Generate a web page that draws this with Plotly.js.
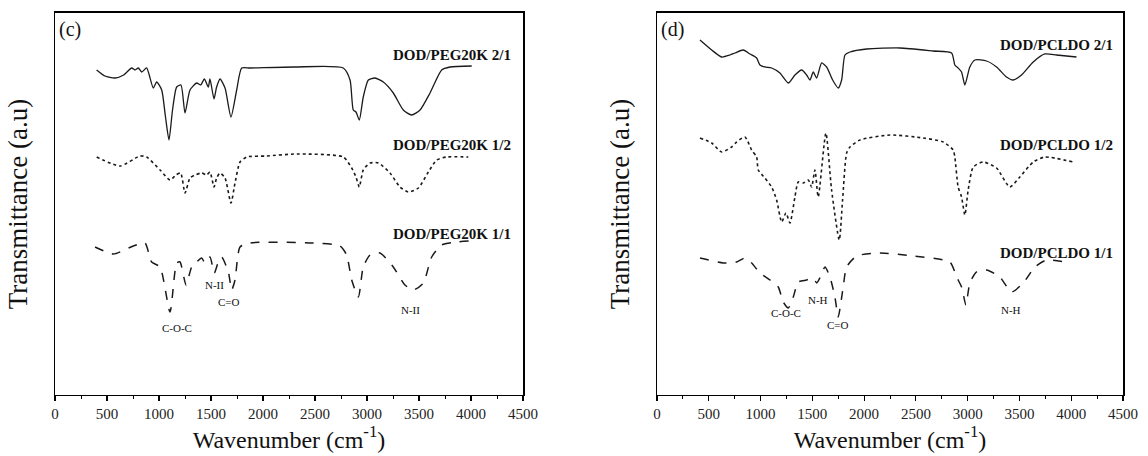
<!DOCTYPE html>
<html>
<head>
<meta charset="utf-8">
<script src="https://cdn.plot.ly/plotly-3.0.1.min.js"></script>
<style>html,body{margin:0;padding:0;background:#fff;}#chart{width:1148px;height:456px;}</style>
</head>
<body>
<div id="chart"></div>
<script>
// ---- Panel (c): DOD/PEG20K ----
const peg21_wn = [400, 480, 577, 660, 737, 769, 801, 834, 881, 945, 978, 1026, 1060, 1096, 1130, 1170, 1211, 1250, 1298, 1362, 1401, 1436, 1474, 1490, 1529, 1554, 1587, 1635, 1692, 1747, 1795, 1875, 2300, 2772, 2837, 2868, 2894, 2926, 2964, 3013, 3077, 3157, 3253, 3349, 3429, 3510, 3606, 3718, 3798, 4007];
const peg21_T  = [325, 319, 317, 320, 327, 325, 327, 323, 327, 307, 313, 305, 280, 255, 285, 308, 310, 282, 305, 312, 310, 316, 308, 316, 296, 308, 316, 307, 278, 305, 327, 327, 328, 327, 315, 285, 283, 275, 298, 315, 317, 313, 302, 285, 280, 285, 302, 325, 328, 329];

const peg12_wn = [401, 625, 817, 881, 1010, 1106, 1163, 1208, 1250, 1298, 1346, 1410, 1458, 1490, 1529, 1554, 1587, 1635, 1692, 1731, 1779, 1843, 2035, 2324, 2772, 2853, 2894, 2926, 2964, 3029, 3109, 3221, 3317, 3397, 3494, 3590, 3670, 3766, 3974];
const peg12_T  = [238, 229, 239, 238, 225, 215, 220, 222, 202, 217, 220, 222, 220, 223, 208, 217, 222, 217, 192, 212, 233, 238, 239, 241, 238, 227, 218, 208, 225, 232, 232, 222, 208, 203, 207, 223, 235, 238, 238];

const peg11_wn = [385, 561, 753, 865, 929, 1010, 1106, 1170, 1202, 1260, 1314, 1362, 1410, 1442, 1490, 1532, 1570, 1603, 1667, 1699, 1731, 1779, 1875, 2484, 2740, 2804, 2853, 2917, 2964, 3029, 3125, 3253, 3365, 3446, 3542, 3622, 3718, 3862, 3990];
const peg11_T  = [148, 141, 149, 152, 133, 128, 83, 132, 133, 110, 128, 133, 137, 132, 138, 122, 133, 138, 123, 105, 115, 148, 152, 152, 149, 140, 115, 98, 128, 140, 142, 128, 110, 105, 112, 138, 150, 153, 154];

// ---- Panel (d): DOD/PCLDO ----
const pcl21_wn = [415, 528, 624, 705, 753, 833, 898, 962, 994, 1042, 1107, 1187, 1268, 1332, 1397, 1445, 1477, 1509, 1542, 1590, 1638, 1696, 1750, 1783, 1815, 1863, 2024, 2346, 2667, 2845, 2876, 2908, 2941, 2973, 3021, 3070, 3182, 3279, 3375, 3439, 3520, 3633, 3745, 3858, 4051];
const pcl21_T  = [355, 345, 338, 340, 342, 345, 341, 337, 330, 328, 327, 322, 312, 320, 325, 320, 315, 323, 317, 332, 328, 315, 307, 315, 340, 343, 346, 347, 344, 342, 330, 327, 323, 310, 328, 335, 334, 328, 318, 315, 320, 333, 341, 340, 338];

const pcl12_wn = [415, 528, 624, 721, 769, 849, 914, 962, 978, 1042, 1107, 1155, 1204, 1245, 1284, 1332, 1364, 1412, 1461, 1493, 1525, 1557, 1631, 1686, 1760, 1792, 1831, 1863, 1959, 2249, 2571, 2764, 2860, 2876, 2908, 2941, 2973, 3005, 3054, 3151, 3279, 3407, 3504, 3633, 3745, 4019];
const pcl12_T  = [257, 252, 243, 248, 253, 258, 245, 238, 225, 217, 208, 195, 173, 182, 172, 198, 213, 212, 215, 208, 225, 198, 262, 205, 155, 195, 242, 248, 255, 260, 257, 253, 245, 238, 208, 198, 180, 205, 228, 233, 227, 208, 218, 233, 238, 233];

const pcl11_wn = [415, 640, 769, 849, 914, 994, 1091, 1171, 1219, 1268, 1316, 1364, 1445, 1509, 1542, 1573, 1622, 1670, 1718, 1750, 1798, 1831, 1928, 2153, 2475, 2828, 2893, 2941, 2983, 3021, 3086, 3182, 3311, 3424, 3536, 3649, 3762, 3986];
const pcl11_T  = [137, 132, 133, 137, 132, 122, 115, 108, 93, 87, 98, 113, 115, 117, 112, 117, 128, 118, 98, 78, 108, 128, 139, 142, 139, 133, 118, 108, 90, 112, 123, 125, 118, 103, 112, 128, 135, 132];

const xTickVals = [0, 500, 1000, 1500, 2000, 2500, 3000, 3500, 4000, 4500];

const FONT = "Liberation Serif, Times New Roman, serif";
const INK = "#1a1a1a";

function trace(x, y, dash, xa, ya, name, w) {
  return {x: x, y: y, xaxis: xa, yaxis: ya, name: name, type: 'scatter', mode: 'lines',
          line: {color: INK, width: w, dash: dash, shape: 'spline', smoothing: 0.6},
          hoverinfo: 'skip', showlegend: false};
}

const data = [
  trace(peg21_wn, peg21_T, 'solid', 'x', 'y', 'DOD/PEG20K 2/1', 1.3),
  trace(peg12_wn, peg12_T, 'dot', 'x', 'y', 'DOD/PEG20K 1/2', 1.6),
  trace(peg11_wn, peg11_T, 'dash', 'x', 'y', 'DOD/PEG20K 1/1', 1.5),
  trace(pcl21_wn, pcl21_T, 'solid', 'x2', 'y2', 'DOD/PCLDO 2/1', 1.3),
  trace(pcl12_wn, pcl12_T, 'dot', 'x2', 'y2', 'DOD/PCLDO 1/2', 1.6),
  trace(pcl11_wn, pcl11_T, 'dash', 'x2', 'y2', 'DOD/PCLDO 1/1', 1.5)
];

function xax(domain, anchor) {
  return {
    domain: domain, anchor: anchor, range: [0, 4500], tickmode: 'array', tickvals: xTickVals,
    ticktext: xTickVals.map(String),
    ticks: 'outside', ticklen: 5, tickwidth: 1.2, tickcolor: '#000',
    minor: {dtick: 250, tick0: 0, ticks: 'outside', ticklen: 3, tickwidth: 1, tickcolor: '#000'},
    showline: true, linecolor: '#000', linewidth: 1.5, mirror: true,
    showgrid: false, zeroline: false,
    tickfont: {family: FONT, size: 15, color: '#222'},
    title: {text: 'Wavenumber (cm<sup>-1</sup>)', font: {family: FONT, size: 24, color: '#111'}, standoff: 6}
  };
}
function yax(anchor) {
  return {
    domain: [0.1338, 0.9715], range: [0, 382], anchor: anchor,
    showticklabels: false, ticks: '', showgrid: false, zeroline: false,
    showline: true, linecolor: '#000', linewidth: 1.5, mirror: true,
    title: {text: 'Transmittance (a.u)', font: {family: FONT, size: 27, color: '#111'}, standoff: 18}
  };
}

function lab(text, x, y, xr, yr, size, bold, anchor) {
  return {text: bold ? '<b>' + text + '</b>' : text, x: x, y: y, xref: xr, yref: yr,
          showarrow: false, xanchor: anchor || 'center', yanchor: 'middle',
          font: {family: FONT, size: size, color: '#111'}};
}

const annotations = [
  // panel tags
  {text: '(c)', x: 57/1148, y: (456-30)/456, xref: 'paper', yref: 'paper', showarrow: false,
   xanchor: 'left', yanchor: 'middle', font: {family: FONT, size: 20, color: '#111'}},
  {text: '(d)', x: 659/1148, y: (456-30)/456, xref: 'paper', yref: 'paper', showarrow: false,
   xanchor: 'left', yanchor: 'middle', font: {family: FONT, size: 20, color: '#111'}},
  // series labels
  lab('DOD/PEG20K 2/1', 4400, 340, 'x', 'y', 15, true, 'right'),
  lab('DOD/PEG20K 1/2', 4400, 250, 'x', 'y', 15, true, 'right'),
  lab('DOD/PEG20K 1/1', 4400, 161, 'x', 'y', 15, true, 'right'),
  lab('DOD/PCLDO 2/1', 4420, 350, 'x2', 'y2', 15, true, 'right'),
  lab('DOD/PCLDO 1/2', 4420, 250, 'x2', 'y2', 15, true, 'right'),
  lab('DOD/PCLDO 1/1', 4420, 142, 'x2', 'y2', 15, true, 'right'),
  // band labels
  lab('C-O-C', 1173, 67, 'x', 'y', 11, false),
  lab('N-II', 1529, 110, 'x', 'y', 11, false),
  lab('C=O', 1673, 93, 'x', 'y', 11, false),
  lab('N-II', 3423, 85, 'x', 'y', 11, false),
  lab('C-O-C', 1245, 82, 'x2', 'y2', 11, false),
  lab('N-H', 1554, 95, 'x2', 'y2', 11, false),
  lab('C=O', 1747, 70, 'x2', 'y2', 11, false),
  lab('N-H', 3417, 85, 'x2', 'y2', 11, false)
];

const layout = {
  width: 1148, height: 456,
  margin: {l: 0, r: 0, t: 0, b: 0},
  paper_bgcolor: '#fff', plot_bgcolor: '#fff',
  showlegend: false,
  xaxis: xax([55/1148, 523/1148], 'y'),
  yaxis: yax('x'),
  xaxis2: xax([657/1148, 1123/1148], 'y2'),
  yaxis2: yax('x2'),
  annotations: annotations
};

Plotly.newPlot('chart', data, layout, {staticPlot: true, displayModeBar: false});
</script>
</body>
</html>
